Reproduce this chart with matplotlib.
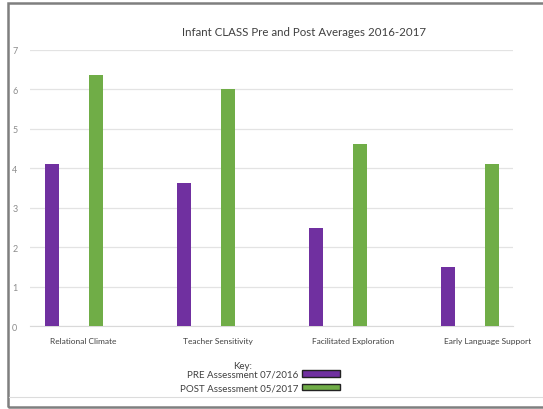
import matplotlib.pyplot as plt
import numpy as np
from matplotlib.patches import Patch, Rectangle

categories = ['Relational Climate', 'Teacher Sensitivity', 'Facilitated Exploration', 'Early Language Support']
pre_vals = [4.12, 3.62, 2.5, 1.5]
post_vals = [6.37, 6.0, 4.62, 4.12]
series_names = ['PRE Assessment 07/2016', 'POST Assessment 05/2017']
colors = ['#7030A0', '#70AD47']

plt.rcParams['font.family'] = ['Lato', 'DejaVu Sans']

W, H = 543, 410
fig = plt.figure(figsize=(W / 100, H / 100), dpi=100)

# outer frame like the screenshot
fig.patches.append(Rectangle((8 / W, 1 - 408 / H), 1, 404 / H, transform=fig.transFigure,
                             fill=False, edgecolor='#7f7f7f', linewidth=1.8))
fig.lines.append(plt.Line2D([9 / W, 1], [1 - 398 / H] * 2, transform=fig.transFigure,
                            color='#dcdcdc', linewidth=0.8))

ax = fig.add_axes([30 / W, 1 - 327.3 / H, 483 / W, (327.3 - 51) / H])

x = np.arange(len(categories))
off = 0.167
w = 0.106
ax.bar(x - off, pre_vals, w, color=colors[0], zorder=3)
ax.bar(x + off, post_vals, w, color=colors[1], zorder=3)

ax.set_xlim(-0.333, 3.326)
ax.set_ylim(0, 7)
ax.set_yticks(range(0, 8))
ax.grid(axis='y', color='#e3e3e3', linewidth=0.9, zorder=0)
for s in ['top', 'right', 'left']:
    ax.spines[s].set_visible(False)
ax.spines['bottom'].set_color('#d9d9d9')
ax.set_xticks(x * 1.023 + 0.068)
ax.set_xticklabels(categories, fontsize=6, color='#404040')
ax.tick_params(axis='x', length=0, pad=8)
ax.tick_params(axis='y', length=0, pad=9, labelsize=6.5, labelcolor='#8c8c8c')

fig.text(304 / W, 1 - 33 / H, 'Infant CLASS Pre and Post Averages 2016-2017',
         ha='center', va='center', fontsize=8.3, color='#404040')

# key
fig.text(243 / W, 1 - 367 / H, 'Key:', ha='center', va='center', fontsize=7, color='#404040')
handles = [Patch(facecolor=c, edgecolor='#222222', linewidth=1) for c in colors]
fig.legend(handles, series_names, loc='upper right', bbox_to_anchor=(340 / W, 1 - 371 / H),
           markerfirst=False, frameon=False, fontsize=7, labelcolor='#404040',
           handlelength=3.9, handleheight=0.6, handletextpad=0.4, labelspacing=0.45,
           borderpad=0, borderaxespad=0)

fig.savefig('out.png', dpi=100)
